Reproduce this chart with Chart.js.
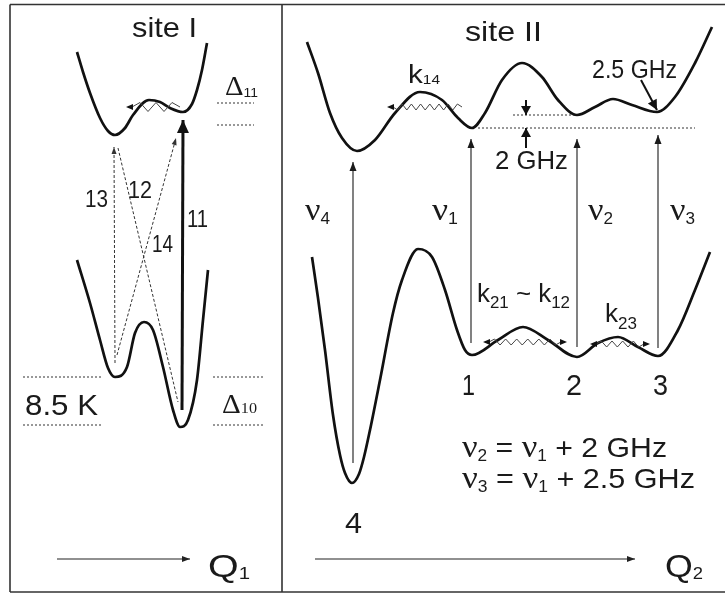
<!DOCTYPE html>
<html>
<head>
<meta charset="utf-8">
<script src="https://cdn.jsdelivr.net/npm/chart.js@4.4.0/dist/chart.umd.min.js"></script>
<style>
  html, body { margin: 0; padding: 0; background: #fff; }
  canvas { display: block; }
</style>
</head>
<body>
<canvas id="c" width="725" height="596"></canvas>
<script>
  // coordinate Q across the panel, energy E downward (picture rows)

  // site I, excited state potential
  const s1UpQ = [77, 83, 90, 100, 108, 115, 125, 133, 149, 160, 170, 183, 192, 197, 202, 207];
  const s1UpE = [52, 72, 93, 118, 131, 135, 128, 115, 100, 102, 108, 112, 104, 90, 70, 43];

  // site I, ground state potential
  const s1LoQ = [77, 90, 100, 108, 115, 127, 135, 144, 153, 163, 173, 180, 188, 197, 203, 208];
  const s1LoE = [260, 303, 340, 368, 377, 367, 333, 322, 330, 367, 410, 427, 420, 380, 320, 270];

  // site II, excited state potential
  const s2UpQ = [307, 318, 330, 342, 357, 375, 395, 420, 442, 458, 472, 485, 502, 522, 542, 558, 577, 595, 613, 632, 657, 675, 695, 712];
  const s2UpE = [42, 73, 113, 138, 151, 140, 113, 92, 100, 118, 128, 113, 80, 63, 77, 100, 115, 107, 99, 105, 112, 97, 63, 27];

  // site II, ground state potential (wells 4, 1, 2, 3)
  const s2LoQ = [312, 318, 325, 333, 340, 345, 352, 359, 364, 370, 380, 393, 402, 418, 432, 445, 457, 465, 472, 498, 523, 548, 577, 598, 618, 638, 658, 678, 695, 710];
  const s2LoE = [257, 298, 350, 415, 455, 473, 483, 474, 457, 430, 380, 313, 280, 249, 257, 290, 330, 350, 355, 340, 327, 340, 357, 343, 337, 347, 356, 330, 290, 252];

  // site I transitions 11, 12, 13, 14
  const s1TransName = ['11', '12', '13', '14'];
  const s1TransFromQ = [182, 117, 115, 118];
  const s1TransFromE = [410, 355, 363, 148];
  const s1TransToQ = [183, 176, 114, 178];
  const s1TransToE = [120, 138, 147, 402];

  // site II transitions nu4, nu1, nu2, nu3
  const nuName = ['4', '1', '2', '3'];
  const nuQ = [353, 471, 577, 658];
  const nuFromE = [463, 343, 347, 348];
  const nuToE = [162, 139, 139, 135];

  // dotted reference levels
  const levelQ1 = [217, 217, 23, 23, 213, 213, 513, 478];
  const levelQ2 = [254, 254, 102, 102, 265, 265, 577, 695];
  const levelE = [103, 125, 377, 425, 377, 425, 115, 128];

  // tunnelling (wavy) arrows, site I, k14, k21~k12, k23
  const waveQ1 = [180, 462, 483, 590];
  const waveQ2 = [126, 387, 567, 650];
  const waveE = [107, 107, 342, 344];
  const waveBoth = [false, false, true, true];

  const pts = (qs, es) => qs.map((q, i) => ({ x: q, y: es[i] }));

  function curve(qs, es) {
    return {
      data: pts(qs, es), borderColor: '#111', borderWidth: 2.7,
      cubicInterpolationMode: 'monotone', pointRadius: 0, fill: false
    };
  }

  function seg(q1, e1, q2, e2, opts) {
    return Object.assign({
      data: [{ x: q1, y: e1 }, { x: q2, y: e2 }],
      borderColor: '#222', borderWidth: 1, pointRadius: 0, tension: 0, fill: false
    }, opts || {});
  }

  const datasets = [
    curve(s1UpQ, s1UpE), curve(s1LoQ, s1LoE),
    curve(s2UpQ, s2UpE), curve(s2LoQ, s2LoE)
  ];

  // frame
  datasets.push(seg(10, 4.5, 730, 4.5, { borderColor: '#333', borderWidth: 1.6 }));
  datasets.push(seg(10, 4.5, 10, 592, { borderColor: '#333', borderWidth: 1.6 }));
  datasets.push(seg(10, 592, 730, 592, { borderColor: '#333', borderWidth: 1.6 }));
  datasets.push(seg(282, 4.5, 282, 592, { borderColor: '#333', borderWidth: 1.6 }));

  levelE.forEach((e, i) => {
    datasets.push(seg(levelQ1[i], e, levelQ2[i], e, { borderColor: '#333', borderWidth: 1, borderDash: [2, 2] }));
  });

  s1TransName.forEach((n, i) => {
    const strong = n === '11';
    datasets.push(seg(s1TransFromQ[i], s1TransFromE[i], s1TransToQ[i], s1TransToE[i], strong
      ? { borderColor: '#111', borderWidth: 3, head: { len: 13, w: 12 } }
      : { borderColor: '#333', borderWidth: 1, borderDash: [3, 2], head: n === '14' ? null : { len: 7, w: 5 } }));
  });

  nuName.forEach((n, i) => {
    datasets.push(seg(nuQ[i], nuFromE[i], nuQ[i], nuToE[i], { borderColor: '#1a1a1a', borderWidth: 1.1, head: { len: 9, w: 7 } }));
  });

  // axis arrows Q1, Q2
  datasets.push(seg(57, 559, 190, 559, { borderWidth: 1.1, head: { len: 8, w: 6 } }));
  datasets.push(seg(315, 559, 635, 559, { borderWidth: 1.1, head: { len: 8, w: 6 } }));

  // 2 GHz gap markers and 2.5 GHz pointer
  datasets.push(seg(526, 100, 526, 115, { borderColor: '#111', borderWidth: 2, head: { len: 9, w: 10 } }));
  datasets.push(seg(526, 148, 526, 128, { borderColor: '#111', borderWidth: 2, head: { len: 9, w: 10 } }));
  datasets.push(seg(641, 80, 657, 110, { borderColor: '#111', borderWidth: 2, head: { len: 10, w: 10 } }));

  waveE.forEach((e, i) => {
    datasets.push(seg(waveQ1[i], e, waveQ2[i], e, {
      borderColor: 'rgba(0,0,0,0)', borderWidth: 0,
      wave: { amp: i === 0 ? 4.5 : 3, period: i === 0 ? 15 : (i === 1 ? 9 : 11) },
      head: { len: 7, w: 6 }, both: waveBoth[i]
    }));
  });

  const SANS = 'Arial, "Liberation Sans", sans-serif';
  const SERIF = '"Liberation Serif", "Times New Roman", serif';

  // text runs: [text, size, serif?, dy]
  const texts = [
    { x: 132, y: 37, w: 65, run: [['site I', 28]] },
    { x: 465, y: 41, w: 77, run: [['site II', 28]] },
    { x: 85, y: 207, w: 23, run: [[s1TransName[2], 23]] },
    { x: 128, y: 198, w: 24, run: [[s1TransName[1], 23]] },
    { x: 187, y: 227, w: 21, run: [[s1TransName[0], 23]] },
    { x: 152, y: 252, w: 21, run: [[s1TransName[3], 23]] },
    { x: 25, y: 415, w: 73, run: [['8.5 K', 30]] },
    { x: 225, y: 95, w: 33, run: [['Δ', 27, true], ['11', 13, false, 2]] },
    { x: 222, y: 413, w: 35, run: [['Δ', 27, true], ['10', 15, true]] },
    { x: 208, y: 577, w: 42, run: [['Q', 31], ['1', 16, false, 2]] },
    { x: 665, y: 577, w: 38, run: [['Q', 31], ['2', 16, false, 2]] },
    { x: 408, y: 83, w: 32, run: [['k', 25], ['14', 13, false, 1]] },
    { x: 592, y: 78, w: 85, run: [['2.5 GHz', 25]] },
    { x: 495, y: 169, w: 73, run: [['2 GHz', 26]] },
    { x: 305, y: 220, w: 25, run: [['ν', 32, true], [nuName[0], 16, false, 4]] },
    { x: 432, y: 220, w: 26, run: [['ν', 32, true], [nuName[1], 16, false, 4]] },
    { x: 588, y: 220, w: 25, run: [['ν', 32, true], [nuName[2], 16, false, 4]] },
    { x: 670, y: 220, w: 25, run: [['ν', 32, true], [nuName[3], 16, false, 4]] },
    { x: 462, y: 395, w: 13, run: [['1', 29]] },
    { x: 566, y: 395, w: 16, run: [['2', 29]] },
    { x: 653, y: 395, w: 15, run: [['3', 29]] },
    { x: 345, y: 533, w: 17, run: [['4', 29]] },
    { x: 477, y: 302, w: 93, run: [['k', 26], ['21', 17, false, 6], [' ~ ', 26], ['k', 26], ['12', 17, false, 6]] },
    { x: 605, y: 322, w: 32, run: [['k', 26], ['23', 17, false, 7]] },
    { x: 462, y: 457, w: 205, run: [['ν', 32, true], ['2', 16, false, 4], [' = ', 28], ['ν', 32, true], ['1', 16, false, 4], [' + 2 GHz', 28]] },
    { x: 462, y: 488, w: 233, run: [['ν', 32, true], ['3', 16, false, 4], [' = ', 28], ['ν', 32, true], ['1', 16, false, 4], [' + 2.5 GHz', 28]] }
  ];

  function drawHead(ctx, x1, y1, x2, y2, len, w, color) {
    const a = Math.atan2(y2 - y1, x2 - x1);
    ctx.save();
    ctx.translate(x2, y2);
    ctx.rotate(a);
    ctx.fillStyle = color;
    ctx.beginPath();
    ctx.moveTo(0, 0);
    ctx.lineTo(-len, -w / 2);
    ctx.lineTo(-len, w / 2);
    ctx.closePath();
    ctx.fill();
    ctx.restore();
  }

  const decor = {
    id: 'decor',
    afterDatasetsDraw(chart) {
      const ctx = chart.ctx;
      const xs = chart.scales.x, ys = chart.scales.y;
      chart.data.datasets.forEach((ds, i) => {
        const p = chart.getDatasetMeta(i).data;
        if (!p || p.length < 2) return;
        const a = p[0], b = p[p.length - 1];
        if (ds.wave) {
          const dir = Math.sign(b.x - a.x);
          let s = a.x, e = b.x;
          if (ds.both) s += dir * 6;
          e -= dir * 6;
          ctx.save();
          ctx.strokeStyle = '#444';
          ctx.lineWidth = 1;
          ctx.beginPath();
          ctx.moveTo(s, a.y);
          const n = Math.max(2, Math.round(Math.abs(e - s) / (ds.wave.period / 2)));
          for (let k = 1; k <= n; k++) {
            const xx = s + (e - s) * k / n;
            const yy = a.y + (k === n ? 0 : (k % 2 ? -ds.wave.amp : ds.wave.amp));
            ctx.lineTo(xx, yy);
          }
          ctx.stroke();
          ctx.restore();
          drawHead(ctx, e, b.y, b.x, b.y, ds.head.len, ds.head.w, '#111');
          if (ds.both) drawHead(ctx, s, a.y, a.x, a.y, ds.head.len, ds.head.w, '#111');
          return;
        }
        if (ds.head) {
          drawHead(ctx, a.x, a.y, b.x, b.y, ds.head.len, ds.head.w, ds.borderColor);
        }
      });

      ctx.save();
      ctx.fillStyle = '#1a1a1a';
      ctx.textBaseline = 'alphabetic';
      texts.forEach(t => {
        let total = 0;
        t.run.forEach(r => {
          ctx.font = r[1] + 'px ' + (r[2] ? SERIF : SANS);
          total += ctx.measureText(r[0]).width;
        });
        const k = t.w / total;
        ctx.save();
        ctx.translate(xs.getPixelForValue(t.x), ys.getPixelForValue(t.y));
        ctx.scale(k, 1);
        let cx = 0;
        t.run.forEach(r => {
          ctx.font = r[1] + 'px ' + (r[2] ? SERIF : SANS);
          ctx.fillText(r[0], cx, r[3] || 0);
          cx += ctx.measureText(r[0]).width;
        });
        ctx.restore();
      });
      ctx.restore();
    }
  };

  new Chart(document.getElementById('c'), {
    type: 'line',
    data: { datasets },
    options: {
      responsive: false,
      animation: false,
      layout: { padding: 0 },
      plugins: { legend: { display: false }, tooltip: { enabled: false } },
      scales: {
        x: { type: 'linear', min: 0, max: 725, display: false },
        y: { type: 'linear', min: 0, max: 596, reverse: true, display: false }
      }
    },
    plugins: [decor]
  });
</script>
</body>
</html>
